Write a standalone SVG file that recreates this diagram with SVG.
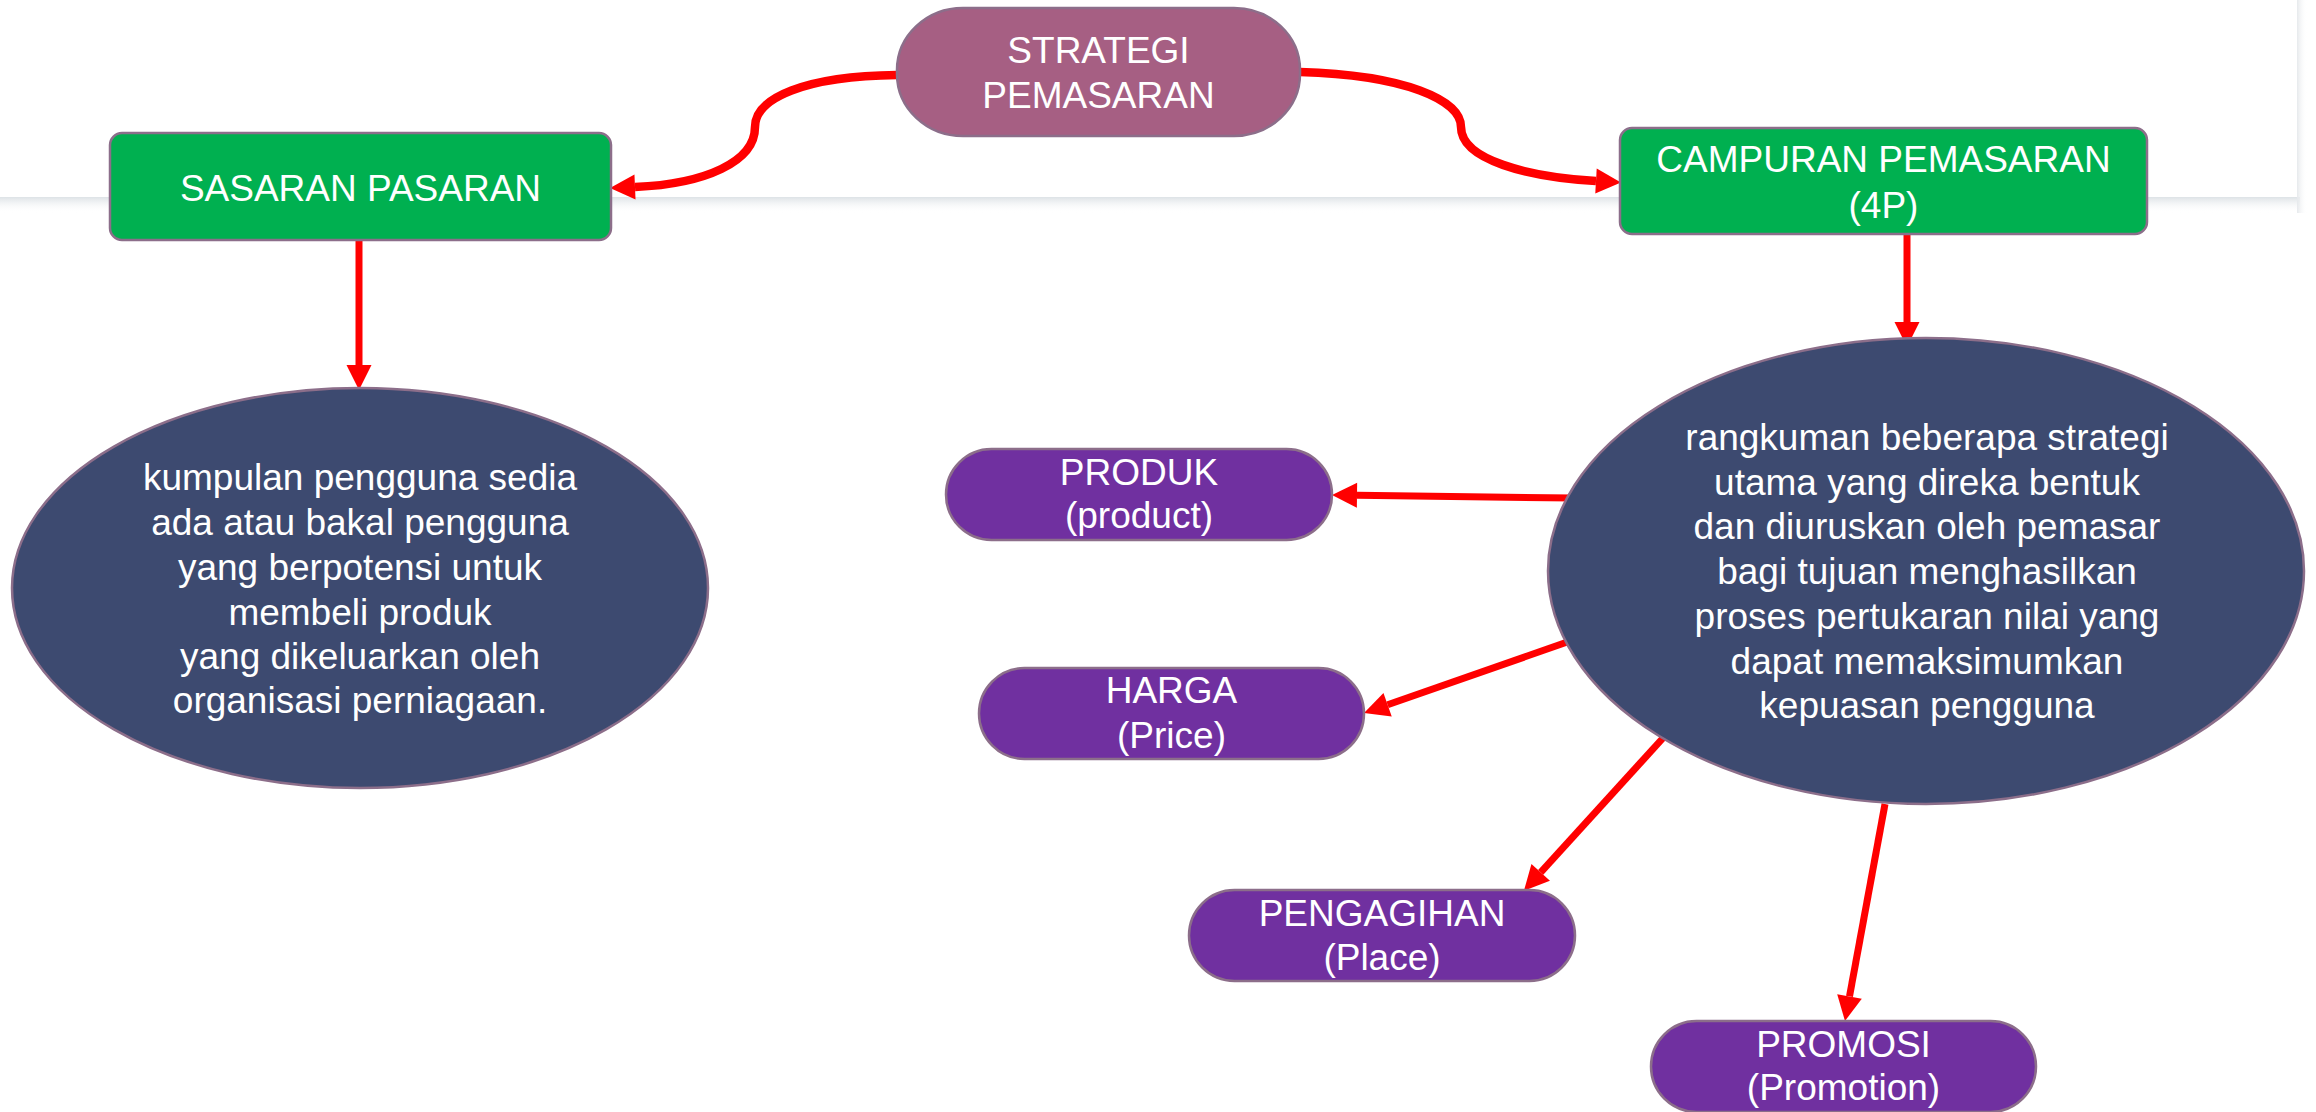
<svg xmlns="http://www.w3.org/2000/svg" width="2316" height="1112" viewBox="0 0 2316 1112">
  <style>
    .node { stroke: #8C6E8A; stroke-width: 2.5; }
    .t { font-family: "Liberation Sans", Arial, sans-serif; font-size: 37px; fill: #FFFFFF; text-anchor: middle; }
    .con { fill: none; stroke: #FF0000; }
    .curve { stroke-width: 8.5; marker-end: url(#head); }
    .straight { stroke-width: 7; marker-end: url(#head); }
  </style>
  <defs>
    <marker id="head" markerUnits="userSpaceOnUse" markerWidth="25" markerHeight="25" refX="0" refY="12.5" orient="auto" overflow="visible">
      <path d="M0,0 L25,12.5 L0,25 Z" fill="#FF0000"/>
    </marker>
    <linearGradient id="shadow" x1="0" y1="0" x2="0" y2="1">
      <stop offset="0" stop-color="#DDE2E6"/>
      <stop offset="1" stop-color="#FFFFFF" stop-opacity="0"/>
    </linearGradient>
    <linearGradient id="shadowR" x1="0" y1="0" x2="1" y2="0">
      <stop offset="0" stop-color="#E6E9EC"/>
      <stop offset="1" stop-color="#FFFFFF" stop-opacity="0"/>
    </linearGradient>
  </defs>

  <rect x="0" y="0" width="2316" height="1112" fill="#FFFFFF"/>
  <g id="panel">
    <rect x="0" y="197" width="2300" height="16" fill="url(#shadow)"/>
    <rect x="2297" y="0" width="10" height="213" fill="url(#shadowR)"/>
  </g>

  <g id="connectors">
    <path class="con curve" d="M897,75 C805,76 755,98 755,127 C755,162 705,184 635,187"/>
    <path class="con curve" d="M1300,72 C1405,75 1461,100 1461,127 C1461,160 1528,177 1596,181"/>
    <line class="con straight" x1="359" y1="240" x2="359" y2="365"/>
    <line class="con straight" x1="1907" y1="234" x2="1907" y2="322"/>
    <line class="con straight" x1="1573" y1="498" x2="1357" y2="495.3"/>
    <line class="con straight" x1="1573" y1="640" x2="1387.6" y2="704.8"/>
    <line class="con straight" x1="1663" y1="738" x2="1540.7" y2="872.4"/>
    <line class="con straight" x1="1885" y1="804" x2="1849.5" y2="996.4"/>
  </g>

  <g id="strategi">
    <rect class="node" x="897" y="8" width="403" height="128" rx="66" ry="62" fill="#A65F83"/>
    <text class="t" x="1098.5" y="63">STRATEGI</text>
    <text class="t" x="1098.5" y="108">PEMASARAN</text>
  </g>

  <g id="sasaran">
    <rect class="node" x="110" y="133" width="501" height="107" rx="12" fill="#00B050"/>
    <text class="t" x="360.5" y="201">SASARAN PASARAN</text>
  </g>

  <g id="campuran">
    <rect class="node" x="1620" y="128" width="527" height="106" rx="12" fill="#00B050"/>
    <text class="t" x="1883.5" y="172">CAMPURAN PEMASARAN</text>
    <text class="t" x="1883.5" y="218">(4P)</text>
  </g>

  <g id="pasaran-def">
    <ellipse class="node" cx="360" cy="588" rx="348" ry="200" fill="#3D4A70"/>
    <text class="t" x="360" y="490">kumpulan pengguna sedia</text>
    <text class="t" x="360" y="535">ada atau bakal pengguna</text>
    <text class="t" x="360" y="580">yang berpotensi untuk</text>
    <text class="t" x="360" y="625">membeli produk</text>
    <text class="t" x="360" y="669">yang dikeluarkan oleh</text>
    <text class="t" x="360" y="713">organisasi perniagaan.</text>
  </g>

  <g id="campuran-def">
    <ellipse class="node" cx="1926" cy="571" rx="378" ry="233" fill="#3D4A70"/>
    <text class="t" x="1927" y="450">rangkuman beberapa strategi</text>
    <text class="t" x="1927" y="495">utama yang direka bentuk</text>
    <text class="t" x="1927" y="539">dan diuruskan oleh pemasar</text>
    <text class="t" x="1927" y="584">bagi tujuan menghasilkan</text>
    <text class="t" x="1927" y="629">proses pertukaran nilai yang</text>
    <text class="t" x="1927" y="674">dapat memaksimumkan</text>
    <text class="t" x="1927" y="718">kepuasan pengguna</text>
  </g>

  <g id="produk">
    <rect class="node" x="946" y="449" width="386" height="91" rx="45.5" fill="#7030A0"/>
    <text class="t" x="1139" y="485">PRODUK</text>
    <text class="t" x="1139" y="528">(product)</text>
  </g>

  <g id="harga">
    <rect class="node" x="979" y="668" width="385" height="91" rx="45.5" fill="#7030A0"/>
    <text class="t" x="1171.5" y="703">HARGA</text>
    <text class="t" x="1171.5" y="748">(Price)</text>
  </g>

  <g id="pengagihan">
    <rect class="node" x="1189" y="890" width="386" height="91" rx="45.5" fill="#7030A0"/>
    <text class="t" x="1382" y="926">PENGAGIHAN</text>
    <text class="t" x="1382" y="970">(Place)</text>
  </g>

  <g id="promosi">
    <rect class="node" x="1651" y="1021" width="385" height="91" rx="45.5" fill="#7030A0"/>
    <text class="t" x="1843.5" y="1057">PROMOSI</text>
    <text class="t" x="1843.5" y="1100">(Promotion)</text>
  </g>
</svg>
